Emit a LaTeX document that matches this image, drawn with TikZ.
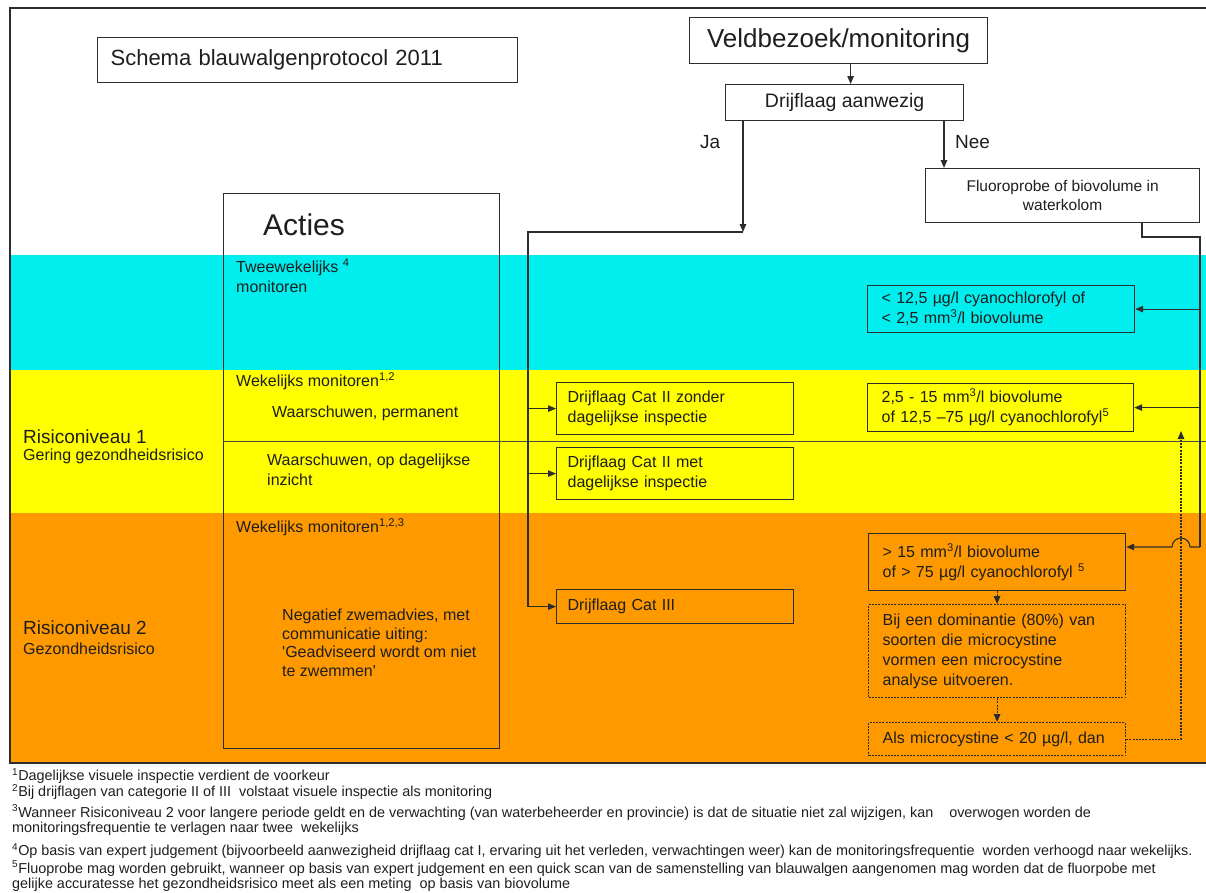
\documentclass[tikz,border=0pt]{standalone}
\usepackage{fontspec}
\setmainfont{Liberation Sans}
\usetikzlibrary{arrows.meta,positioning,calc}
\definecolor{bandcyan}{RGB}{0,238,238}
\definecolor{bandyellow}{RGB}{255,255,0}
\definecolor{bandorange}{RGB}{255,153,0}
\definecolor{lijn}{RGB}{45,45,45}
\definecolor{tekst}{RGB}{30,30,30}
\newcommand{\fsz}[2]{\fontsize{#1}{#2}\selectfont}

\begin{document}
\begin{tikzpicture}[x=1pt,y=-1pt,
		>={Triangle[length=8pt,width=6.5pt]},
		vak/.style={draw=lijn,line width=1.2pt,anchor=north west,inner sep=0pt,text=tekst,
			align=left,font=\fsz{16}{20},execute at begin node={\leftskip=#1}},
		vak/.default=11pt,
		midvak/.style={draw=lijn,line width=1.2pt,anchor=north west,inner sep=0pt,text=tekst,align=center},
		stippel/.style={dash pattern=on 2pt off 1.2pt},
		lbl/.style={anchor=west,inner sep=0pt,text=tekst,align=left,font=\fsz{16}{20}},
		voet/.style={anchor=west,inner sep=0pt,text=tekst,align=left,font=\fsz{14.4}{15}},
		pijl/.style={->,draw=lijn,line width=1.1pt},
		verbinding/.style={draw=lijn,line width=1.1pt}]
	\useasboundingbox (0,0) rectangle (1206,892);
	\clip (0,0) rectangle (1206,892);
	\fill[bandcyan] (11,255) rectangle (1206,370);
	\fill[bandyellow] (11,370) rectangle (1206,513);
	\fill[bandorange] (11,513) rectangle (1206,762);
	\draw[lijn,line width=1.5pt] (1215,8) -- (10,8) -- (10,763) -- (1215,763);

	\node[vak=13pt, text width=420, minimum height=45, font=\fsz{22}{26}] (titel) at (97,37) {Schema blauwalgenprotocol 2011};
	\node[midvak, minimum width=298, minimum height=46, font=\fsz{26}{30}] (veld) at (689,17) {Veldbezoek/monitoring};
	\node[midvak, minimum width=238, minimum height=36, font=\fsz{19.5}{23}] (drijf) at (725,84) {Drijflaag aanwezig};
	\node[midvak, minimum width=274, minimum height=54, font=\fsz{15.5}{19}] (fluoro) at (925,168) {Fluoroprobe of biovolume in\\waterkolom};
	\node[lbl, font=\fsz{19}{22}] (ja) at (700,142) {Ja};
	\node[lbl, font=\fsz{19}{22}] (nee) at (955,142) {Nee};

	\node[draw=lijn, line width=1.2pt, anchor=north west, minimum width=276, minimum height=555, inner sep=0pt] (actiesvak) at (223,193) {};
	\draw[gray!60!black, line width=0.8pt] (actiesvak.west |- 0,441) -- (1206,441);
	\node[lbl, font=\fsz{30}{34}] (acties) at (263,225) {Acties};
	\node[lbl] (twee) at (236,276) {Tweewekelijks \textsuperscript{4}\\monitoren};
	\node[lbl] (wekelijks1) at (236,381) {Wekelijks monitoren\textsuperscript{1,2}};
	\node[lbl] (waarsch1) at (272,413) {Waarschuwen, permanent};
	\node[lbl] (waarsch2) at (267,470) {Waarschuwen, op dagelijkse\\inzicht};
	\node[lbl] (wekelijks2) at (236,527) {Wekelijks monitoren\textsuperscript{1,2,3}};
	\node[lbl, font=\fsz{16}{18.5}] (negatief) at (282,643) {Negatief zwemadvies, met\\communicatie uiting:\\\textquotesingle Geadviseerd wordt om niet\\te zwemmen\textquotesingle};

	\node[lbl, font=\fsz{19}{22}] (risico1) at (23,437) {Risiconiveau 1};
	\node[lbl] (gering) at (23,456) {Gering gezondheidsrisico};
	\node[lbl, font=\fsz{19}{22}] (risico2) at (23,628) {Risiconiveau 2};
	\node[lbl] (gezond) at (23,649) {Gezondheidsrisico};

	\node[vak, text width=237, minimum height=52] (cat2a) at (556,382) {Drijflaag Cat II zonder\\dagelijkse inspectie};
	\node[vak, text width=237, minimum height=52] (cat2b) at (556,447) {Drijflaag Cat II met\\dagelijkse inspectie};
	\node[vak, text width=237, minimum height=34] (cat3) at (556,589) {Drijflaag Cat III};

	\node[vak=14pt, text width=267, minimum height=47] (laag) at (867,285) {< 12,5 µg/l cyanochlorofyl of\\< 2,5 mm\textsuperscript{3}/l biovolume};
	\node[vak=14pt, text width=266, minimum height=48] (midden) at (867,383) {2,5 - 15 mm\textsuperscript{3}/l biovolume\\of 12,5 –75 µg/l cyanochlorofyl\textsuperscript{5}};
	\node[vak=14pt, text width=257, minimum height=57] (hoog) at (868,533) {> 15 mm\textsuperscript{3}/l biovolume\\of > 75 µg/l cyanochlorofyl \textsuperscript{5}};
	\node[vak=14pt, stippel, text width=257, minimum height=93] (dominant) at (868,604) {Bij een dominantie (80\%) van\\soorten die microcystine\\vormen een microcystine\\analyse uitvoeren.};
	\node[vak=14pt, stippel, text width=257, minimum height=33] (alsmc) at (868,722) {Als microcystine < 20 µg/l, dan};

	\coordinate (jahoek) at (743,232);
	\coordinate (jatak) at (528,232);
	\coordinate (neex) at (944,0);
	\coordinate (fluouit) at (1142,237);
	\coordinate (rechtsboven) at (1200,237);
	\coordinate (rechtsonder) at (1200,547);
	\coordinate (terugtop) at (1181,431);

	\draw[pijl] ([xshift=12pt]veld.south) -- ([xshift=12pt]veld.south |- drijf.north);
	\draw[pijl] (drijf.south -| jahoek) -- (jahoek);
	\draw[pijl] (jahoek) -- (jatak) |- (cat3.west);
	\draw[pijl] (jatak |- cat2a.west) -- (cat2a.west);
	\draw[pijl] (jatak |- cat2b.west) -- (cat2b.west);
	\draw[pijl] (drijf.south -| neex) -- (fluoro.north -| neex);

	\draw[verbinding] (fluoro.south -| fluouit) -- (fluouit) -- (rechtsboven) -- (rechtsonder);
	\draw[pijl] (rechtsboven |- laag.east) -- (laag.east);
	\draw[pijl] (rechtsboven |- midden.east) -- (midden.east);
	\draw[pijl] (rechtsonder) -- ++(-10,0) arc[start angle=0,end angle=180,radius=9pt] -- (rechtsonder -| hoog.east);

	\draw[pijl, stippel] (hoog.south) -- (dominant.north);
	\draw[pijl, stippel] (dominant.south) -- (alsmc.north);
	\draw[pijl, stippel] (alsmc.east) -| (terugtop);

	\node[voet] (voet1) at (12,776) {\textsuperscript{1}Dagelijkse visuele inspectie verdient de voorkeur};
	\node[voet] (voet2) at (12,792) {\textsuperscript{2}Bij drijflagen van categorie II of III\ \ volstaat visuele inspectie als monitoring};
	\node[voet] (voet3) at (12,820) {\textsuperscript{3}Wanneer Risiconiveau 2 voor langere periode geldt en de verwachting (van waterbeheerder en provincie) is dat de situatie niet zal wijzigen, kan\ \ \ \ overwogen worden de\\monitoringsfrequentie te verlagen naar twee\ \ wekelijks};
	\node[voet] (voet4) at (12,851) {\textsuperscript{4}Op basis van expert judgement (bijvoorbeeld aanwezigheid drijflaag cat I, ervaring uit het verleden, verwachtingen weer) kan de monitoringsfrequentie\ \ worden verhoogd naar wekelijks.};
	\node[voet] (voet5) at (12,876) {\textsuperscript{5}Fluoprobe mag worden gebruikt, wanneer op basis van expert judgement en een quick scan van de samenstelling van blauwalgen aangenomen mag worden dat de fluorpobe met\\gelijke accuratesse het gezondheidsrisico meet als een meting\ \ op basis van biovolume};
\end{tikzpicture}
\end{document}
